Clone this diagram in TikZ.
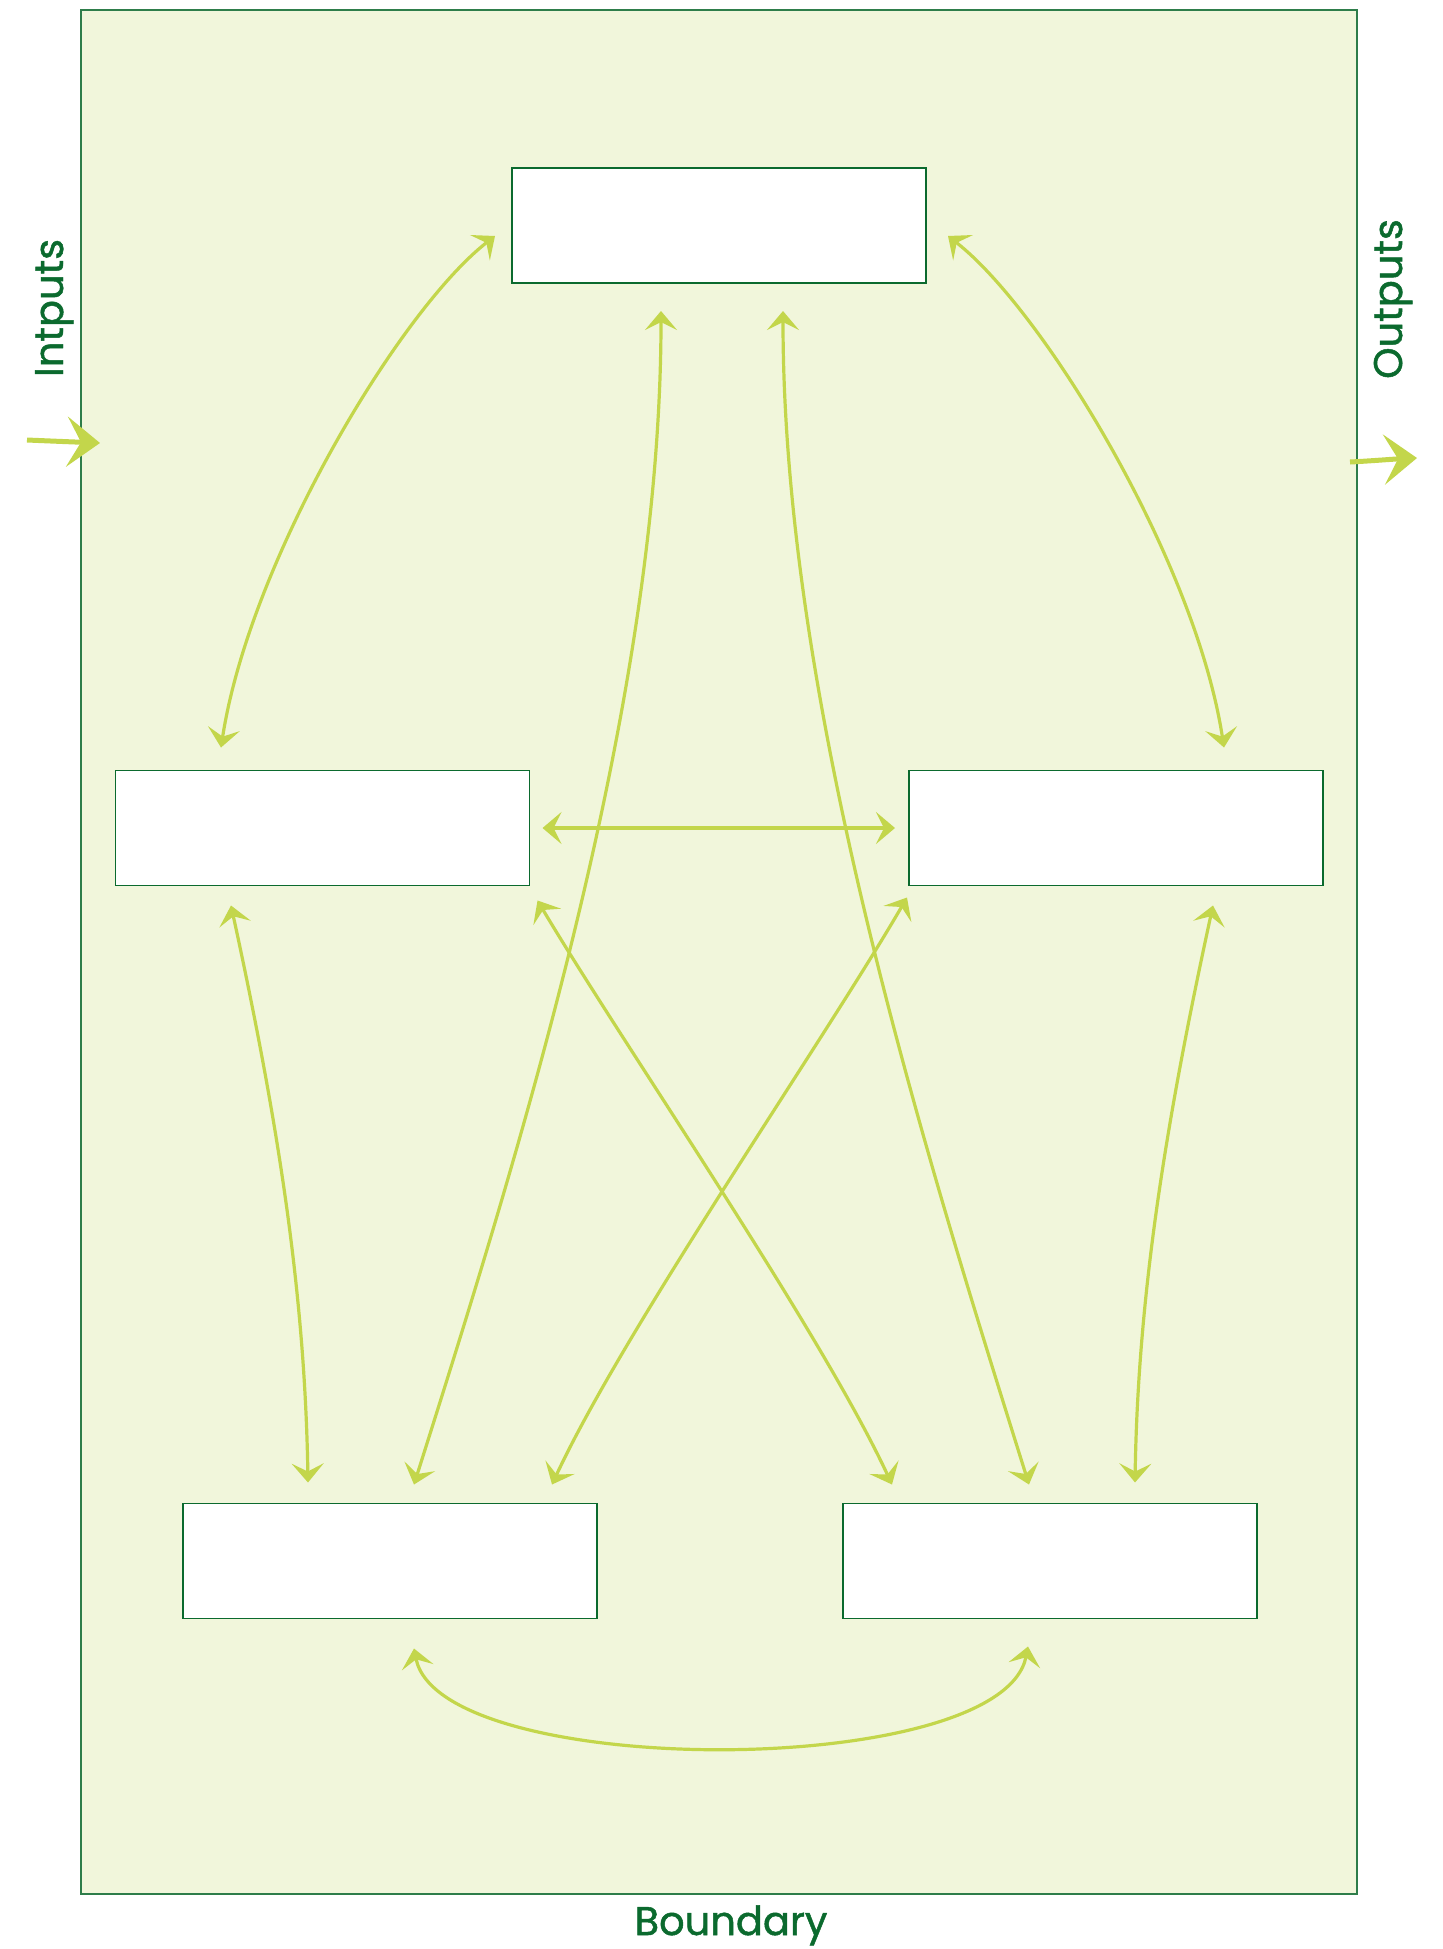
\documentclass[tikz,border=0pt]{standalone}
\usepackage{fontspec}
\setmainfont{Poppins}
\newfontfamily\lblfont{Poppins}[FakeBold=1.2]
\usetikzlibrary{arrows.meta}
\definecolor{lime}{HTML}{C3D64B}
\definecolor{bg}{HTML}{F1F6DB}
\definecolor{dgreen}{HTML}{0B6A2E}
\definecolor{bgreen}{HTML}{2E7D4A}
\tikzset{
  every picture/.style={x=0.5pt,y=-0.5pt},
  boundarybox/.style={draw=bgreen,line width=0.8pt,fill=bg,minimum width=638pt,minimum height=942pt,inner sep=0pt,outer sep=0pt},
  blank/.style={draw=dgreen,line width=0.75pt,fill=white,minimum width=207pt,minimum height=57.5pt,inner sep=0pt,outer sep=0pt},
  link/.style={draw=lime,line width=1.6pt,{Stealth[length=9.5pt,width=16pt,inset=4pt]}-{Stealth[length=9.5pt,width=16pt,inset=4pt]}},
  bigarrow/.style={draw=lime,line width=2.5pt,-{Stealth[length=16.5pt,width=25pt,inset=7pt]}},
  lbl/.style={text=dgreen,font=\lblfont\fontsize{20pt}{24pt}\selectfont,inner sep=0pt}
}
\begin{document}
\begin{tikzpicture}
\useasboundingbox (0,0) rectangle (1443,1949);
\node[boundarybox] (boundary) at (719,952) {};
\node[blank] (top) at (719,225.5) {};
\node[blank] (left) at (322.5,828) {};
\node[blank] (right) at (1116,828) {};
\node[blank] (bl) at (390,1561) {};
\node[blank] (br) at (1050,1561) {};

% top to middle
\draw[link] ([shift={(-17,10.5)}]top.west) .. controls +(-95,74) and +(29,-188) .. ([shift={(-101.5,-23)}]left.north);
\draw[link] ([shift={(22,10.5)}]top.east) .. controls +(95,74) and +(-29,-188) .. ([shift={(108,-23)}]right.north);
% top to bottom
\draw[link] ([shift={(-58,28)}]top.south) .. controls +(0,389) and +(106,-335) .. ([shift={(24,-19)}]bl.north);
\draw[link] ([shift={(64,28)}]top.south) .. controls +(0,389) and +(-105,-335) .. ([shift={(-21,-19)}]br.north);
% middle
\draw[link] ([xshift=6.5pt]left.east) -- ([xshift=-7pt]right.west);
% middle to bottom
\draw[link] ([shift={(-91.5,20)}]left.south) .. controls +(49,225) and +(-3,-183) .. ([shift={(-82,-21)}]bl.north);
\draw[link] ([shift={(97,20)}]right.south) .. controls +(-49,225) and +(3,-183) .. ([shift={(85,-21)}]br.north);
\draw[link] ([shift={(8,15)}]left.south east) .. controls +(83,140) and +(-72,-155) .. ([shift={(49,-19)}]br.north west);
\draw[link] ([shift={(-2,12)}]right.south west) .. controls +(-83,143) and +(72,-155) .. ([shift={(-45,-19)}]bl.north east);
% bottom
\draw[link] ([shift={(24,30)}]bl.south) .. controls +(26,132) and +(-26,134) .. ([shift={(-22,28)}]br.south);

% inputs / outputs
\coordinate (inStart) at (27,440);
\coordinate (inEnd) at (100,443);
\coordinate (outStart) at (1350,462);
\coordinate (outEnd) at (1417,458);
\draw[bigarrow] (inStart) .. controls (50,441) and (75,442) .. (inEnd);
\draw[bigarrow] (outStart) .. controls (1370,461) and (1395,459) .. (outEnd);

\node[lbl,rotate=90,anchor=base] (inlbl) at (63,308) {Intputs};
\node[lbl,rotate=90,anchor=base] (outlbl) at (1402,299) {Outputs};
\node[lbl,anchor=base] (blbl) at (731,1935) {Boundary};
\end{tikzpicture}
\end{document}
